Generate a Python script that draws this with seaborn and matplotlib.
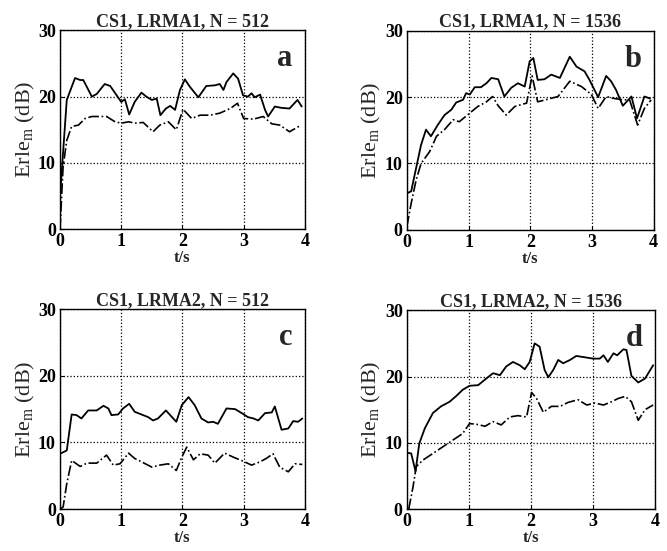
import numpy as np
import pandas as pd
import seaborn as sns
import matplotlib.pyplot as plt

# panel a : CS1, LRMA1, N = 512
a_t_solid = [0, 0.11, 0.245, 0.33, 0.38, 0.52, 0.6, 0.73, 0.82, 0.925, 1.0, 1.06, 1.13, 1.22, 1.33, 1.41, 1.5, 1.58, 1.64, 1.73, 1.8, 1.88, 1.96, 2.04, 2.12, 2.26, 2.39, 2.53, 2.61, 2.67, 2.72, 2.83, 2.91, 2.99, 3.07, 3.13, 3.18, 3.27, 3.35, 3.4, 3.51, 3.62, 3.75, 3.88, 3.95]
a_solid = [5, 19.5, 22.8, 22.5, 22.5, 20, 20.4, 21.9, 21.6, 20.2, 19.2, 19.6, 17.3, 19.2, 20.6, 20, 19.5, 19.7, 17.2, 18.2, 18.6, 18, 21, 22.6, 21.5, 19.9, 21.6, 21.7, 21.9, 21, 22.2, 23.5, 22.7, 20.2, 20, 20.5, 19.9, 20.3, 18, 17, 18.5, 18.3, 18.2, 19.5, 18.5]
a_t_dash = [0, 0.05, 0.11, 0.19, 0.3, 0.41, 0.52, 0.63, 0.76, 0.9, 1.0, 1.12, 1.22, 1.36, 1.52, 1.63, 1.77, 1.9, 2.01, 2.15, 2.29, 2.45, 2.61, 2.78, 2.9, 3.0, 3.16, 3.32, 3.46, 3.59, 3.75, 3.92]
a_dash = [0, 9.4, 13.4, 15.5, 15.7, 16.7, 17, 17, 17, 16.2, 16, 16.2, 16, 16.1, 14.7, 15.7, 16.2, 15, 18.1, 16.7, 17.2, 17.2, 17.5, 18.2, 19, 16.7, 16.6, 17, 15.9, 15.7, 14.7, 15.6]

# panel b : CS1, LRMA1, N = 1536
b_t_solid = [0, 0.07, 0.12, 0.23, 0.31, 0.39, 0.5, 0.61, 0.72, 0.8, 0.91, 0.96, 1.02, 1.1, 1.2, 1.29, 1.37, 1.48, 1.58, 1.69, 1.8, 1.91, 1.99, 2.05, 2.12, 2.23, 2.34, 2.48, 2.64, 2.75, 2.88, 2.96, 3.1, 3.23, 3.31, 3.39, 3.5, 3.64, 3.73, 3.85, 3.94]
b_solid = [5.5, 5.8, 8, 12.8, 15.1, 14.1, 15.8, 17.3, 18.1, 19.2, 19.6, 20.6, 20.4, 21.5, 21.5, 22.1, 22.9, 22.7, 20.1, 21.4, 22.1, 21.6, 25.4, 25.9, 22.6, 22.7, 23.4, 22.9, 26.1, 24.6, 23.9, 22.6, 20, 23.2, 22.4, 21.1, 18.7, 20.1, 16.8, 20.1, 19.8]
b_t_dash = [0, 0.07, 0.15, 0.23, 0.37, 0.48, 0.61, 0.75, 0.85, 1.02, 1.15, 1.29, 1.39, 1.48, 1.61, 1.75, 1.94, 2.03, 2.12, 2.29, 2.45, 2.64, 2.83, 2.99, 3.1, 3.23, 3.36, 3.5, 3.61, 3.74, 3.85, 3.96]
b_dash = [0.5, 4, 7.5, 10, 11.8, 14.1, 15.1, 16.6, 16.3, 17.6, 18.6, 19.3, 20.1, 18.7, 17.3, 18.6, 19.1, 23.2, 19.3, 19.7, 20.1, 22.4, 21.6, 20.4, 18.3, 20.1, 19.8, 19.6, 19.6, 15.8, 18.3, 19.6]

# panel c : CS1, LRMA2, N = 512
c_t_solid = [0, 0.11, 0.19, 0.27, 0.35, 0.46, 0.6, 0.71, 0.79, 0.84, 0.95, 1.03, 1.13, 1.22, 1.33, 1.44, 1.52, 1.6, 1.73, 1.82, 1.9, 1.99, 2.1, 2.2, 2.31, 2.42, 2.5, 2.58, 2.72, 2.86, 2.97, 3.07, 3.16, 3.24, 3.35, 3.46, 3.51, 3.62, 3.73, 3.81, 3.89, 3.96]
c_solid = [8.3, 8.8, 14.2, 14.1, 13.6, 14.8, 14.8, 15.5, 15.1, 14.1, 14.2, 15.1, 15.8, 14.6, 14.2, 13.8, 13.3, 13.6, 14.8, 13.9, 13.1, 15.6, 16.8, 15.6, 13.6, 13, 13.1, 12.8, 15.1, 15, 14.4, 13.8, 13.6, 13.3, 14.4, 14.5, 15.4, 11.9, 12.1, 13.2, 13.1, 13.6]
c_t_dash = [0, 0.05, 0.11, 0.19, 0.33, 0.44, 0.6, 0.76, 0.87, 0.98, 1.12, 1.22, 1.33, 1.5, 1.63, 1.77, 1.9, 1.99, 2.07, 2.18, 2.29, 2.42, 2.53, 2.69, 2.83, 2.99, 3.13, 3.27, 3.37, 3.48, 3.59, 3.73, 3.84, 3.96]
c_dash = [0, 0.3, 3.8, 7.3, 6.4, 6.9, 6.9, 8.1, 6.6, 6.8, 8.4, 7.6, 7.1, 6.3, 6.6, 6.8, 5.8, 7.8, 9.3, 7.4, 8.3, 8.1, 6.9, 8.4, 7.8, 7.2, 6.6, 7.1, 7.6, 8.3, 6.3, 5.6, 6.8, 6.7]

# panel d : CS1, LRMA2, N = 1536
d_t_solid = [0, 0.07, 0.14, 0.2, 0.29, 0.42, 0.55, 0.69, 0.8, 0.9, 1.01, 1.15, 1.28, 1.39, 1.5, 1.6, 1.71, 1.82, 1.9, 1.98, 2.06, 2.14, 2.22, 2.28, 2.36, 2.44, 2.52, 2.63, 2.73, 2.87, 3.0, 3.11, 3.17, 3.24, 3.33, 3.39, 3.49, 3.54, 3.62, 3.73, 3.84, 3.97]
d_solid = [8.5, 8.4, 5.7, 9.9, 12.2, 14.5, 15.5, 16.2, 17.1, 18, 18.6, 18.7, 19.7, 20.5, 20.2, 21.5, 22.2, 21.7, 21.1, 22.2, 25, 24.5, 21, 19.9, 21, 22.5, 22, 22.5, 23.1, 22.9, 22.7, 22.7, 23.2, 22.2, 23.5, 23.2, 24.1, 24, 20.1, 19.1, 19.7, 21.7]
d_t_dash = [0.03, 0.1, 0.15, 0.26, 0.42, 0.58, 0.74, 0.9, 1.01, 1.12, 1.26, 1.39, 1.52, 1.66, 1.79, 1.93, 2.01, 2.09, 2.2, 2.33, 2.47, 2.6, 2.76, 2.9, 3.03, 3.17, 3.3, 3.41, 3.52, 3.62, 3.73, 3.84, 3.97]
d_dash = [0, 3.4, 6.4, 7.4, 8.4, 9.4, 10.4, 11.4, 12.9, 12.8, 12.5, 13.2, 12.7, 13.9, 14.1, 13.9, 17.6, 16.7, 14.6, 15.5, 15.5, 16.1, 16.5, 15.7, 16, 15.7, 16.2, 16.7, 17, 16.2, 13.4, 15, 15.7]

titles = ["CS1, LRMA1, N = 512", "CS1, LRMA1, N = 1536",
          "CS1, LRMA2, N = 512", "CS1, LRMA2, N = 1536"]
letters = ["a", "b", "c", "d"]

sns.set_style("ticks")
plt.rcParams['font.family'] = ['Liberation Serif', 'DejaVu Serif']
plt.rcParams['mathtext.fontset'] = 'custom'
plt.rcParams['mathtext.rm'] = 'Liberation Serif'
plt.rcParams['xtick.direction'] = 'in'
plt.rcParams['ytick.direction'] = 'in'

fig = plt.figure(figsize=(6.67, 5.51), dpi=100)
boxes = [[0.090, 0.584, 0.367, 0.361], [0.610, 0.583, 0.370, 0.361],
         [0.090, 0.076, 0.367, 0.363], [0.610, 0.076, 0.372, 0.361]]

panels = [(a_t_solid, a_solid, a_t_dash, a_dash),
          (b_t_solid, b_solid, b_t_dash, b_dash),
          (c_t_solid, c_solid, c_t_dash, c_dash),
          (d_t_solid, d_solid, d_t_dash, d_dash)]

for i, (ts, s, td, d) in enumerate(panels):
    ax = fig.add_axes(boxes[i])
    sns.lineplot(x=ts, y=s, color='k', lw=1.3, ax=ax)
    sns.lineplot(x=td, y=d, color='k', lw=1.2, linestyle='-.', ax=ax)
    ax.set_xlim(0, 4)
    ax.set_ylim(0, 30)
    ax.set_xticks([0, 1, 2, 3, 4])
    ax.set_yticks([0, 10, 20, 30])
    ax.grid(True, color='k', linestyle=':', linewidth=0.9)
    for sp in ax.spines.values():
        sp.set_color('k')
        sp.set_linewidth(1.0)
    ax.tick_params(axis='x', labelsize=13, length=3, colors='k', pad=3)
    ax.tick_params(axis='y', labelsize=13, length=3, colors='k', pad=3)
    for lab in ax.get_xticklabels() + ax.get_yticklabels():
        lab.set_fontweight('bold')
    ax.set_title(titles[i], fontsize=13, fontweight='bold', pad=3)
    ax.set_xlabel('t/s', fontsize=12, fontweight='bold', labelpad=0)
    ax.set_ylabel(r'Erle$_\mathrm{m}$ (dB)', fontsize=16, labelpad=1)
    ax.text(0.95, 0.93, letters[i], transform=ax.transAxes, ha='right', va='top',
            fontsize=22, fontweight='bold')

fig.savefig('out.png', dpi=100)
